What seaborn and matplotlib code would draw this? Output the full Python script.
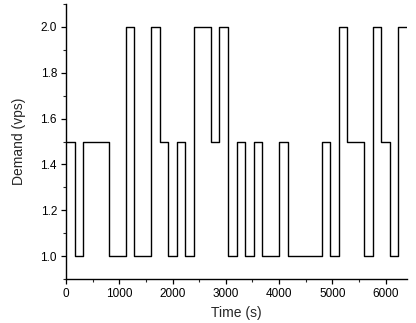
import matplotlib
matplotlib.use("Agg")
import matplotlib.pyplot as plt
import seaborn as sns
import pandas as pd
from matplotlib.ticker import MultipleLocator

# Step change times (s) and demand level (vps) from each change onward
change_times = [0, 160, 320, 800, 1120, 1280, 1600, 1760, 1920, 2080,
                2240, 2400, 2720, 2880, 3040, 3200, 3360, 3520, 3680, 4000,
                4160, 4800, 4960, 5120, 5280, 5600, 5760, 5920, 6080, 6240,
                6400]
demand = [1.5, 1.0, 1.5, 1.0, 2.0, 1.0, 2.0, 1.5, 1.0, 1.5,
          1.0, 2.0, 1.5, 2.0, 1.0, 1.5, 1.0, 1.5, 1.0, 1.5,
          1.0, 1.5, 1.0, 2.0, 1.5, 1.0, 2.0, 1.5, 1.0, 2.0,
          2.0]
x_ticks = [0, 1000, 2000, 3000, 4000, 5000, 6000]
y_ticks = [1.0, 1.2, 1.4, 1.6, 1.8, 2.0]

sns.set_theme(style="ticks")
plt.rcParams['font.family'] = ['Liberation Sans', 'DejaVu Sans']

df = pd.DataFrame({"t": change_times, "d": demand})

fig = plt.figure(figsize=(4.16, 3.23), dpi=100)
ax = fig.add_axes([66/416, 1 - 279/323, (407 - 66)/416, (279 - 4)/323])
sns.lineplot(data=df, x="t", y="d", ax=ax, drawstyle="steps-post",
             color="black", linewidth=1.0, estimator=None)

ax.set_xlim(0, 6400)
ax.set_ylim(0.9, 2.1)
ax.set_xticks(x_ticks)
ax.set_yticks(y_ticks)
ax.set_yticklabels([f"{v:.1f}" for v in y_ticks])
ax.xaxis.set_minor_locator(MultipleLocator(500))
ax.yaxis.set_minor_locator(MultipleLocator(0.1))
ax.tick_params(which="major", direction="out", length=3.5, width=0.9,
               labelsize=8.5, pad=3, colors="black")
ax.tick_params(which="minor", direction="out", length=2, width=0.8)
for s in ["top", "right"]:
    ax.spines[s].set_visible(False)
for s in ["left", "bottom"]:
    ax.spines[s].set_linewidth(1.0)
    ax.spines[s].set_color("black")
ax.set_xlabel("Time (s)", fontsize=10)
ax.set_ylabel("Demand (vps)", fontsize=10)
ax.xaxis.set_label_coords(0.5, -(313 - 279) / 275, transform=ax.transAxes)
ax.xaxis.label.set_va("center")
ax.yaxis.set_label_coords(-(66 - 19) / 341, 0.5, transform=ax.transAxes)
ax.yaxis.label.set_va("center")

fig.savefig("out.png", dpi=100)
